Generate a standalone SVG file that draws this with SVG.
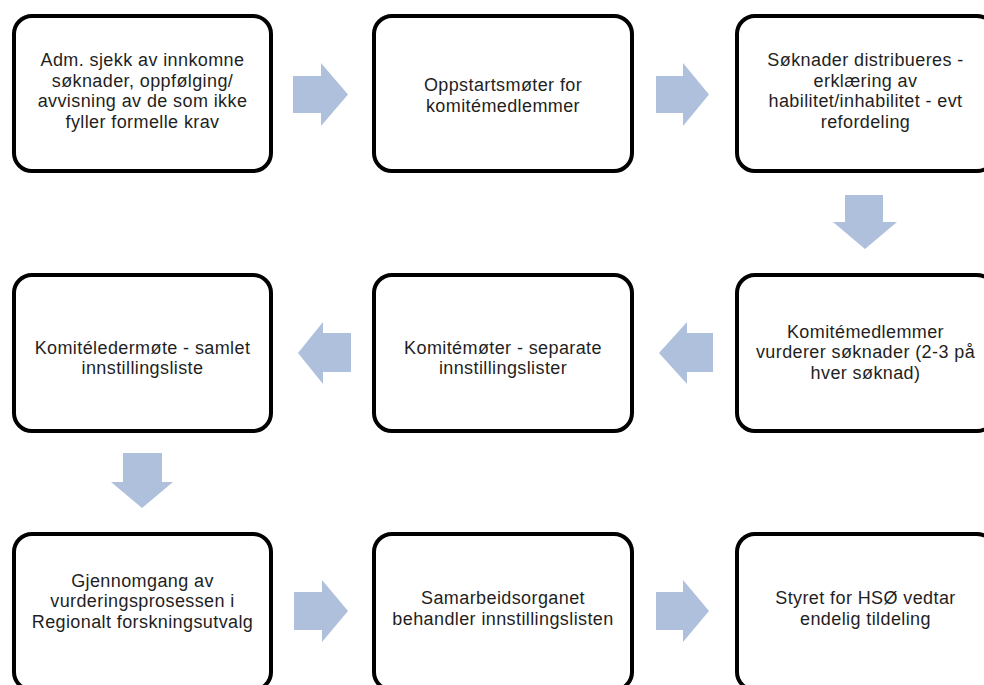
<svg xmlns="http://www.w3.org/2000/svg" width="984" height="685" viewBox="0 0 984 685">
<style>
.box{fill:#ffffff;stroke:#000000;stroke-width:4}
.arr{fill:#afc0dd;stroke:none}
text{font-family:"Liberation Sans",Arial,sans-serif;font-size:18px;letter-spacing:0.4px;fill:#1f1f1f;text-anchor:middle}
</style>
<rect width="984" height="685" fill="#ffffff"/>
<g id="connectors">
<path class="arr" d="M293,76 H321 V63 L348,94.5 L321,126 V113 H293 Z"/>
<path class="arr" d="M656,76 H683 V63 L709,94.5 L683,126 V113 H656 Z"/>
<path class="arr" d="M845,195 H883 V222 H897 L865,249 L833,222 H845 Z"/>
<path class="arr" d="M713,333 V372 H687 V384 L659,353 L687,322 V333 Z"/>
<path class="arr" d="M351,333 V372 H323 V384 L298,353 L323,322 V333 Z"/>
<path class="arr" d="M123,453 H162 V482 H173 L142,508 L111,482 H123 Z"/>
<path class="arr" d="M294,592 H322 V580 L348,611 L322,642 V630 H294 Z"/>
<path class="arr" d="M656,592 H683 V580 L709,611 L683,642 V630 H656 Z"/>
</g>
<g id="n1">
<rect class="box" x="14" y="16" width="257" height="155" rx="18"/>
<text x="142.5" y="66">Adm. sjekk av innkomne</text>
<text x="142.5" y="86.5">søknader, oppfølging/</text>
<text x="142.5" y="107">avvisning av de som ikke</text>
<text x="142.5" y="127.5">fyller formelle krav</text>
</g>
<g id="n2">
<rect class="box" x="374" y="16" width="258" height="155" rx="18"/>
<text x="503" y="91.25">Oppstartsmøter for</text>
<text x="503" y="111.75">komitémedlemmer</text>
</g>
<g id="n3">
<rect class="box" x="737" y="16" width="258" height="155" rx="18"/>
<text x="865.5" y="66">Søknader distribueres  -</text>
<text x="865.5" y="86.5">erklæring av</text>
<text x="865.5" y="107">habilitet/inhabilitet - evt</text>
<text x="865.5" y="127.5">refordeling</text>
</g>
<g id="n4">
<rect class="box" x="737" y="275" width="258" height="156" rx="18"/>
<text x="865.5" y="337.5">Komitémedlemmer</text>
<text x="865.5" y="358">vurderer søknader (2-3 på</text>
<text x="865.5" y="378.5">hver søknad)</text>
</g>
<g id="n5">
<rect class="box" x="374" y="275" width="258" height="156" rx="18"/>
<text x="503" y="353.75">Komitémøter - separate</text>
<text x="503" y="374.25">innstillingslister</text>
</g>
<g id="n6">
<rect class="box" x="14" y="275" width="257" height="156" rx="18"/>
<text x="142.5" y="353.75">Komitéledermøte - samlet</text>
<text x="142.5" y="374.25">innstillingsliste</text>
</g>
<g id="n7">
<rect class="box" x="14" y="534" width="257" height="156" rx="18"/>
<text x="142.5" y="586.5">Gjennomgang av</text>
<text x="142.5" y="607">vurderingsprosessen i</text>
<text x="142.5" y="627.5">Regionalt forskningsutvalg</text>
</g>
<g id="n8">
<rect class="box" x="374" y="534" width="258" height="156" rx="18"/>
<text x="503" y="604.25">Samarbeidsorganet</text>
<text x="503" y="624.75">behandler innstillingslisten</text>
</g>
<g id="n9">
<rect class="box" x="737" y="534" width="258" height="156" rx="18"/>
<text x="865.5" y="604.25">Styret for HSØ vedtar</text>
<text x="865.5" y="624.75">endelig tildeling</text>
</g>
</svg>
